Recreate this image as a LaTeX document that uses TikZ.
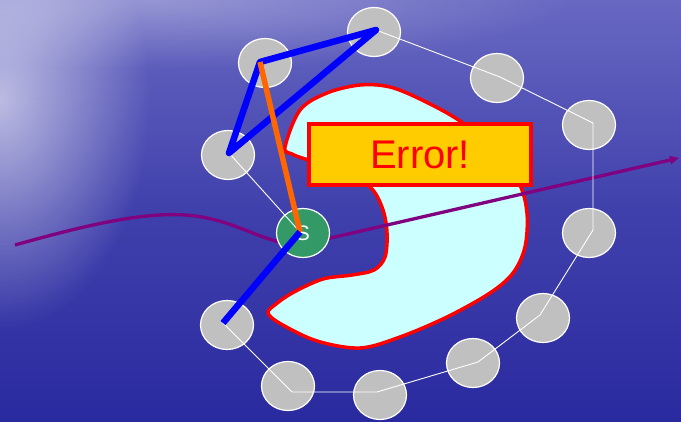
\documentclass[tikz,border=0pt]{standalone}
\usepackage{fontspec}
\setmainfont{Liberation Sans}
\usetikzlibrary{shapes.geometric,arrows.meta,fadings}
\definecolor{bgtop}{RGB}{104,104,194}
\definecolor{bgmid}{RGB}{64,64,172}
\definecolor{bgbot}{RGB}{42,42,160}
\definecolor{nodegray}{RGB}{192,192,192}
\definecolor{sgreen}{RGB}{51,153,102}
\definecolor{lblue}{RGB}{0,0,255}
\definecolor{lorange}{RGB}{255,102,0}
\definecolor{lpurple}{RGB}{128,0,128}
\definecolor{blobcyan}{RGB}{204,255,255}
\definecolor{lred}{RGB}{255,0,0}
\definecolor{boxyellow}{RGB}{255,204,0}
\tikzfading[name=glowfade, inner color=transparent!0, outer color=transparent!100]
\tikzset{
  peer/.style={ellipse, draw=white, line width=1.2pt, fill=nodegray,
    minimum width=53pt, minimum height=49pt, inner sep=0pt},
  source/.style={peer, fill=sgreen, text=white, font=\fontsize{21}{21}\selectfont},
  ring/.style={draw=white, line width=0.9pt},
  route/.style={draw=lblue, line width=6.5pt, line join=round},
  shortcut/.style={draw=lorange, line width=5.5pt},
  flow/.style={draw=lpurple, line width=3.3pt},
  errbox/.style={draw=lred, line width=4pt, fill=boxyellow, text=lred,
    minimum width=222pt, minimum height=61pt, inner sep=0pt,
    font=\fontsize{40}{40}\selectfont}
}
\begin{document}
\begin{tikzpicture}[x=1pt,y=-1pt]
\useasboundingbox (0,0) rectangle (681,422);
% background
\shade[top color=bgtop, bottom color=bgbot, middle color=bgmid] (0,0) rectangle (681,422);
\fill[white, opacity=0.6, path fading=glowfade] (0,100) ellipse [x radius=150pt, y radius=230pt];
\fill[white, opacity=0.3, path fading=glowfade] (150,0) ellipse [x radius=420pt, y radius=70pt];
% obstacle
\draw[draw=lred, line width=3.5pt, fill=blobcyan] plot[smooth cycle, tension=0.55] coordinates {
 (285,147) (300,110) (327,93) (360,85) (390,87) (422,100) (460,121) (495,150)
 (519,183) (527,213) (525,247) (513,273) (490,293) (447,317) (400,337)
 (360,348) (317,341) (281,324) (268,313) (276,304) (294,292) (323,279)
 (352,275) (374,270) (385,257) (387,233) (383,210) (372,189) (350,174)
 (322,164) (305,159) (292,154)};
% flow
\coordinate (fstart) at (15,245);
\coordinate (fend) at (679,158);
\draw[flow, -{Triangle[length=9pt,width=8pt]}] (fstart) .. controls (90,224) and (150,210) .. (195,216)
  .. controls (240,222) and (262,243) .. (300,245) -- (fend);
% peers
\node[peer] (n1) at (374,32) {};
\node[peer] (n2) at (265,63) {};
\node[peer] (n3) at (228,155) {};
\node[source] (s) at (303,233) {S};
\node[peer] (n5) at (227,325) {};
\node[peer] (n6) at (288,386) {};
\node[peer] (n7) at (380,395) {};
\node[peer] (n8) at (473,363) {};
\node[peer] (n9) at (543,318) {};
\node[peer] (n10) at (589,233) {};
\node[peer] (n11) at (589,125) {};
\node[peer] (n12) at (497,78) {};
% ring vertices
\coordinate (p1) at (376,30);
\coordinate (p2) at (260,62);
\coordinate (p3) at (229,153);
\coordinate (ps) at (300,232);
\coordinate (p5) at (223,323);
\coordinate (p6) at (292,392);
\coordinate (p7) at (377,392);
\coordinate (p8) at (478,362);
\coordinate (p9) at (540,315);
\coordinate (p10) at (593,230);
\coordinate (p11) at (593,123);
\coordinate (p12) at (500,77);
\draw[ring] (p1) -- (p12) -- (p11) -- (p10) -- (p9) -- (p8) -- (p7) -- (p6) -- (p5) -- (ps) -- (p3) -- (p2) -- cycle;
% routes
\draw[route] (p2) -- (p1) -- (p3) -- cycle;
\draw[shortcut] (p2) -- (ps);
\draw[route] (ps) -- (p5);
% error
\node[errbox] (err) at (420,154.5) {Error!};
\end{tikzpicture}
\end{document}
